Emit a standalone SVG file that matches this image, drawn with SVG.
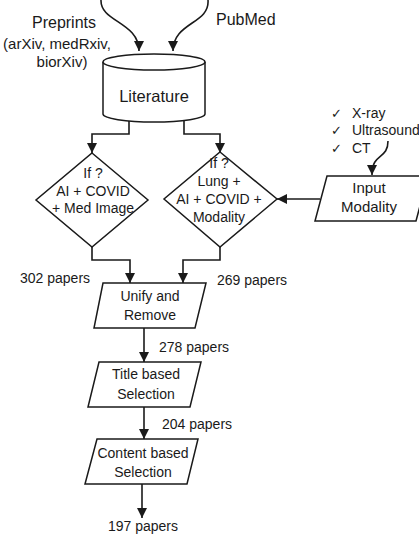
<svg xmlns="http://www.w3.org/2000/svg" width="419" height="536" viewBox="0 0 419 536">
<defs>
<marker id="ah" viewBox="0 0 10 10" refX="10" refY="5" markerWidth="10" markerHeight="11" markerUnits="userSpaceOnUse" orient="auto">
<path d="M0,0 L10,5 L0,10 Z" fill="#1a1a1a"/>
</marker>
<style>
text{font-family:"Liberation Sans",Arial,sans-serif;fill:#1a1a1a;}
.t14{font-size:14px;}
.t15{font-size:15px;}
.t16{font-size:16px;}
.mid{text-anchor:middle;}
.shape{fill:#fff;stroke:#1a1a1a;stroke-width:1.5;}
.conn{fill:none;stroke:#1a1a1a;stroke-width:1.6;}
.chk{font-family:"DejaVu Sans",sans-serif;font-size:13px;}
</style>
</defs>
<rect width="419" height="536" fill="#fff"/>

<g id="connectors">
<path class="conn" d="M101,0 C100,22 139,22 139,51" marker-end="url(#ah)"/>
<path class="conn" d="M208,0 C210,24 173,22 173,51" marker-end="url(#ah)"/>
<path class="conn" d="M129,120 V134 H92 V153" marker-end="url(#ah)"/>
<path class="conn" d="M184,120 V134 H220 V153" marker-end="url(#ah)"/>
<path class="conn" d="M92,247 V260 H130 V283" marker-end="url(#ah)"/>
<path class="conn" d="M220,247 V260 H183 V283" marker-end="url(#ah)"/>
<path class="conn" d="M320,199 H277" marker-end="url(#ah)"/>
<path class="conn" d="M388,141 C388,160 372,152 372,175" marker-end="url(#ah)"/>
<path class="conn" d="M144,328 V362" marker-end="url(#ah)"/>
<path class="conn" d="M144,407 V439" marker-end="url(#ah)"/>
<path class="conn" d="M142,484 V518" marker-end="url(#ah)"/>
</g>

<g id="labels">
<text class="t16 mid" x="64" y="28">Preprints</text>
<text class="t15 mid" x="57" y="49">(arXiv, medRxiv,</text>
<text class="t15 mid" x="62" y="67">biorXiv)</text>
<text class="t16" x="216" y="25">PubMed</text>
<text class="t14" x="20" y="283">302 papers</text>
<text class="t14" x="217" y="285">269 papers</text>
<text class="t14" x="159" y="352">278 papers</text>
<text class="t14" x="162" y="429">204 papers</text>
<text class="t14 mid" x="143" y="531">197 papers</text>
</g>

<g id="modality-list">
<text class="chk" x="331" y="118">✓</text>
<text class="t14" x="352" y="118">X-ray</text>
<text class="chk" x="331" y="135">✓</text>
<text class="t14" x="352" y="135">Ultrasound</text>
<text class="chk" x="331" y="153">✓</text>
<text class="t14" x="352" y="153">CT</text>
</g>

<g id="literature">
<path class="shape" d="M103,62 V114 A51,8 0 0 0 205,114 V62"/>
<ellipse class="shape" cx="154" cy="62" rx="51" ry="8"/>
<text class="t16 mid" x="154" y="102" style="font-size:16.5px">Literature</text>
</g>

<g id="decision-left">
<polygon class="shape" points="92,153 148,200 92,247 36,200"/>
<text class="t14 mid" x="93" y="178">If ?</text>
<text class="t14 mid" x="93" y="196">AI + COVID</text>
<text class="t14 mid" x="93" y="213">+ Med Image</text>
</g>

<g id="decision-right">
<polygon class="shape" points="220,152 277,199 220,247 164,199"/>
<text class="t14 mid" x="219" y="168">If ?</text>
<text class="t14 mid" x="219" y="186">Lung +</text>
<text class="t14 mid" x="219" y="204">AI + COVID +</text>
<text class="t14 mid" x="219" y="222">Modality</text>
</g>

<g id="input-modality">
<polygon class="shape" points="327,176 428,176 416,221 315,221"/>
<text class="t15 mid" x="369" y="193">Input</text>
<text class="t15 mid" x="369" y="212">Modality</text>
</g>

<g id="unify">
<polygon class="shape" points="103,283 206,283 195,328 94,328"/>
<text class="t14 mid" x="150" y="301">Unify and</text>
<text class="t14 mid" x="150" y="320">Remove</text>
</g>

<g id="title-selection">
<polygon class="shape" points="99,362 201,362 190,407 88,407"/>
<text class="t14 mid" x="146" y="379">Title based</text>
<text class="t14 mid" x="146" y="399">Selection</text>
</g>

<g id="content-selection">
<polygon class="shape" points="97,439 198,439 187,484 85,484"/>
<text class="t14 mid" x="143" y="458">Content based</text>
<text class="t14 mid" x="143" y="477">Selection</text>
</g>
</svg>
